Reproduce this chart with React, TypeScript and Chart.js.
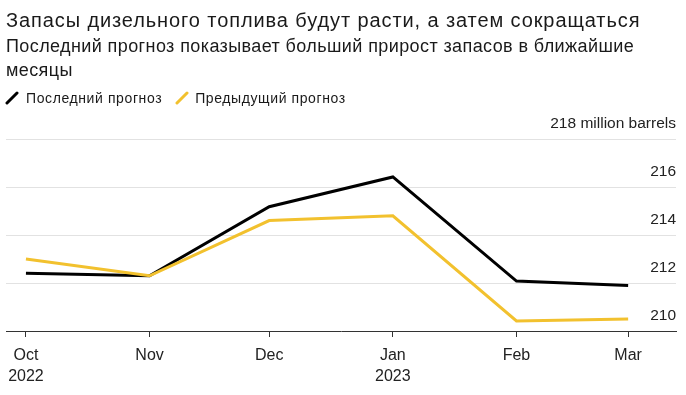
import React, { useEffect, useRef } from "react";
import { Chart, registerables } from "chart.js";

Chart.register(...registerables);

// ---- Data ----
const monthLabels = ["Oct", "Nov", "Dec", "Jan", "Feb", "Mar"];
const yearLabels = ["2022", "", "", "2023", "", ""];
const dayOffsets = [0, 31, 61, 92, 123, 151]; // days since 1 Oct 2022
const latestForecast = [212.41, 212.3, 215.18, 216.42, 212.08, 211.9];
const previousForecast = [213.0, 212.3, 214.6, 214.8, 210.42, 210.5];
const yTicks = [210, 212, 214, 216, 218];
const yUnit = "million barrels";

const titleText = "Запасы дизельного топлива будут расти, а затем сокращаться";
const subtitleText = "Последний прогноз показывает больший прирост запасов в ближайшие месяцы";
const latestLabel = "Последний прогноз";
const previousLabel = "Предыдущий прогноз";

const BLACK = "#000000";
const YELLOW = "#f2c12e";
const FONT = "'Liberation Sans', Arial, Helvetica, sans-serif";

function Slash({ color }: { color: string }) {
  return (
    <svg width="14" height="14" style={{ display: "inline-block", verticalAlign: "middle" }}>
      <line x1="2" y1="12" x2="12" y2="2" stroke={color} strokeWidth="3" strokeLinecap="round" />
    </svg>
  );
}

export default function App() {
  const canvasRef = useRef<HTMLCanvasElement | null>(null);

  useEffect(() => {
    if (!canvasRef.current) return;
    const chart = new Chart(canvasRef.current, {
      type: "line",
      data: {
        datasets: [
          {
            label: previousLabel,
            data: dayOffsets.map((d, i) => ({ x: d, y: previousForecast[i] })),
            borderColor: YELLOW,
            borderWidth: 3,
            pointRadius: 0,
            tension: 0,
            fill: false,
          },
          {
            label: latestLabel,
            data: dayOffsets.map((d, i) => ({ x: d, y: latestForecast[i] })),
            borderColor: BLACK,
            borderWidth: 3,
            pointRadius: 0,
            tension: 0,
            fill: false,
          },
        ],
      },
      options: {
        animation: false,
        responsive: false,
        maintainAspectRatio: false,
        layout: { padding: { top: 139, left: 5, right: 0, bottom: 0 } },
        plugins: {
          legend: { display: false },
          tooltip: { enabled: false },
          title: { display: false },
        },
        scales: {
          x: {
            type: "linear",
            min: -5,
            max: 163,
            afterBuildTicks: (s: any) => {
              s.ticks = dayOffsets.map((v) => ({ value: v }));
            },
            afterFit: (s: any) => {
              s.height = 64;
            },
            grid: {
              drawOnChartArea: false,
              drawTicks: true,
              tickLength: 6,
              color: "#333333",
              tickWidth: 1,
            },
            border: { display: true, color: "#333333", width: 1 },
            ticks: {
              autoSkip: false,
              maxRotation: 0,
              padding: 8,
              color: "#222222",
              font: { family: FONT, size: 16, lineHeight: "21px" },
              callback: (v: any) => {
                const i = dayOffsets.indexOf(Number(v));
                if (i < 0) return "";
                return yearLabels[i] ? [monthLabels[i], yearLabels[i]] : monthLabels[i];
              },
            },
          },
          y: {
            position: "right",
            min: 210,
            max: 218,
            afterBuildTicks: (s: any) => {
              s.ticks = yTicks.map((v) => ({ value: v }));
            },
            afterFit: (s: any) => {
              s.width = 10;
            },
            grid: {
              drawTicks: false,
              lineWidth: 1,
              color: (ctx: any) => (ctx.tick && ctx.tick.value === 210 ? "rgba(0,0,0,0)" : "#e2e2e2"),
            },
            border: { display: false },
            ticks: {
              mirror: true,
              padding: 0,
              labelOffset: -15,
              color: "#222222",
              font: { family: FONT, size: 15.5 },
              callback: (v: any) => (Number(v) === 218 ? `218 ${yUnit}` : String(v)),
            },
          },
        },
      },
    });
    return () => chart.destroy();
  }, []);

  return (
    <div
      style={{
        position: "fixed",
        left: 0,
        top: 0,
        width: 686,
        height: 395,
        background: "#ffffff",
        fontFamily: FONT,
        color: "#1a1a1a",
        overflow: "hidden",
      }}
    >
      <canvas
        ref={canvasRef}
        width={686}
        height={395}
        style={{ position: "absolute", left: 0, top: 0, width: 686, height: 395 }}
      />
      <div
        style={{
          position: "absolute",
          left: 6,
          top: 8,
          fontSize: 20,
          letterSpacing: "0.9px",
          lineHeight: "24px",
          whiteSpace: "nowrap",
        }}
      >
        {titleText}
      </div>
      <div
        style={{
          position: "absolute",
          left: 6,
          top: 34,
          width: 645,
          fontSize: 18,
          letterSpacing: "0.4px",
          lineHeight: "24px",
        }}
      >
        {subtitleText}
      </div>
      <div
        style={{
          position: "absolute",
          left: 5,
          top: 88,
          fontSize: 14,
          letterSpacing: "0.6px",
          lineHeight: "20px",
          whiteSpace: "nowrap",
          display: "flex",
          alignItems: "center",
        }}
      >
        <Slash color={BLACK} />
        <span style={{ marginLeft: 7, marginRight: 13 }}>{latestLabel}</span>
        <Slash color={YELLOW} />
        <span style={{ marginLeft: 6 }}>{previousLabel}</span>
      </div>
    </div>
  );
}
